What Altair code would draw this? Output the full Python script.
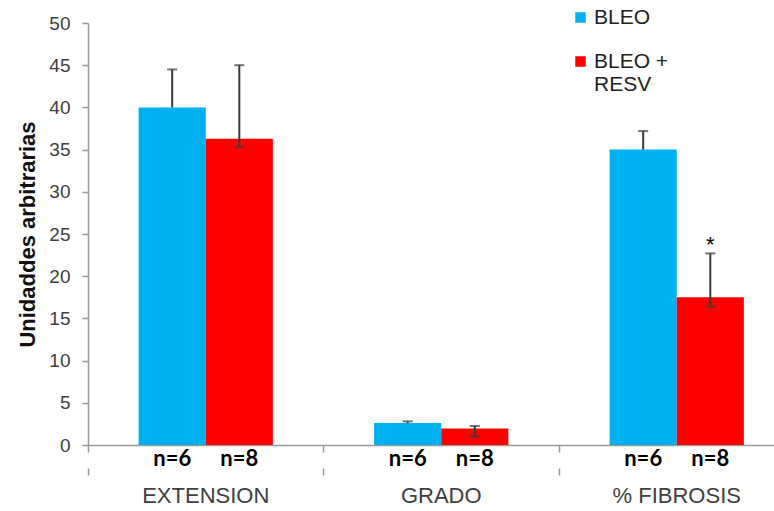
import altair as alt
import pandas as pd

# Chart values
categories = ["EXTENSION", "GRADO", "% FIBROSIS"]
series = ["BLEO", "BLEO + RESV"]
bleo = [40.0, 2.6, 35.0]
bleo_resv = [36.3, 1.95, 17.5]
bleo_err_high = [44.5, 2.8, 37.2]
bleo_resv_err_low = [35.3, 1.0, 16.4]
bleo_resv_err_high = [45.0, 2.25, 22.7]
n_bleo = ["n=6", "n=6", "n=6"]
n_bleo_resv = ["n=8", "n=8", "n=8"]
significance = ["", "", "*"]
colors = ["#00B0F0", "#FF0000"]
y_ticks = list(range(0, 51, 5))

BAR = 0.285  # width of one bar, in category units
X_MAX = 2.913

bars, caps, cats = [], [], []
for i, cat in enumerate(categories):
    cats.append({"cat": cat, "xm": i + 0.5})
    groups = [
        (series[0], bleo[i], bleo[i], bleo_err_high[i], n_bleo[i], "", False),
        (series[1], bleo_resv[i], bleo_resv_err_low[i], bleo_resv_err_high[i],
         n_bleo_resv[i], significance[i], True),
    ]
    for s, (name, val, lo, hi, n, star, low_cap) in enumerate(groups):
        x0 = i + 0.5 - BAR + s * BAR
        xc = x0 + BAR / 2
        bars.append({"cat": cat, "series": name, "x0": x0, "x1": x0 + BAR,
                     "xc": xc, "value": val, "lo": lo, "hi": hi,
                     "n": n, "star": star})
        caps.append({"xc": xc, "y": hi})
        if low_cap:
            caps.append({"xc": xc, "y": lo})

bars_df = pd.DataFrame(bars)
caps_df = pd.DataFrame(caps)
cats_df = pd.DataFrame(cats)

FONT = "Liberation Sans"
AXIS_GRAY = "#9a9a9a"
TEXT_GRAY = "#404040"

xscale = alt.Scale(domain=[0, X_MAX], nice=False, zero=False)
yscale = alt.Scale(domain=[0, 50], nice=False)

bar_layer = alt.Chart(bars_df).mark_bar(stroke=None).encode(
    x=alt.X("x0:Q", scale=xscale,
            axis=alt.Axis(values=[0, 1, 2], labels=False, title=None, grid=False,
                          tickSize=7, domainColor=AXIS_GRAY, tickColor=AXIS_GRAY,
                          domainWidth=1.5, tickWidth=1.5, orient="bottom")),
    x2="x1:Q",
    y=alt.Y("value:Q", scale=yscale,
            axis=alt.Axis(values=y_ticks, title="Unidaddes arbitrarias", grid=False,
                          tickSize=6, labelPadding=12, labelFontSize=19,
                          labelColor=TEXT_GRAY, labelFont=FONT,
                          domainColor=AXIS_GRAY, tickColor=AXIS_GRAY,
                          domainWidth=1.5, tickWidth=1.5,
                          titleFont=FONT, titleFontSize=22, titleFontWeight="bold",
                          titleColor="#111111", titlePadding=9)),
    y2=alt.datum(0),
    color=alt.Color("series:N", scale=alt.Scale(domain=series, range=colors),
                    legend=alt.Legend(
                        title=None, orient="none", legendX=482, legendY=-16,
                        symbolType="square", symbolSize=110, symbolStrokeWidth=0,
                        labelFont=FONT, labelFontSize=21, labelColor="#222222",
                        labelOffset=3, rowPadding=22, labelLimit=200,
                        labelBaseline="middle",
                        labelExpr="datum.label == 'BLEO + RESV' ? ['BLEO +', 'RESV'] : datum.label")),
)

whiskers = alt.Chart(bars_df).mark_rule(color="#3a3a3a", strokeWidth=2).encode(
    x=alt.X("xc:Q", axis=None), y="lo:Q", y2="hi:Q")

cap_layer = alt.Chart(caps_df).mark_tick(
    orient="horizontal", color="#3a3a3a", size=10, thickness=2).encode(
    x=alt.X("xc:Q", axis=None), y="y:Q")

n_labels = alt.Chart(bars_df).mark_text(
    font="Lato", fontSize=22, fontWeight="bold", color="#000000",
    baseline="middle", dy=14).encode(
    x=alt.X("xc:Q", axis=None), y=alt.datum(0), text="n:N")

stars = alt.Chart(bars_df).mark_text(
    font=FONT, fontSize=22, color="#000000", baseline="middle", dy=-8).encode(
    x=alt.X("xc:Q", axis=None), y="hi:Q", text="star:N")

cat_labels = alt.Chart(cats_df).mark_text(
    font=FONT, fontSize=22, color=TEXT_GRAY, baseline="middle", dy=51).encode(
    x=alt.X("xm:Q", scale=xscale,
            axis=alt.Axis(values=[0, 1, 2], labels=False, title=None, grid=False,
                          domain=False, tickSize=7, offset=23,
                          tickColor=AXIS_GRAY, tickWidth=1.5, orient="bottom")),
    y=alt.datum(0), text="cat:N")

chart = alt.layer(
    bar_layer, whiskers, cap_layer, n_labels, stars, cat_labels
).resolve_axis(x="independent").properties(
    width=686, height=422,
    autosize=alt.AutoSizeParams(type="none"),
    padding={"left": 88, "top": 23, "right": 0, "bottom": 66},
    background="white",
).configure_view(stroke=None)

chart.save("out.html", embed_options={"renderer": "svg", "actions": False})
